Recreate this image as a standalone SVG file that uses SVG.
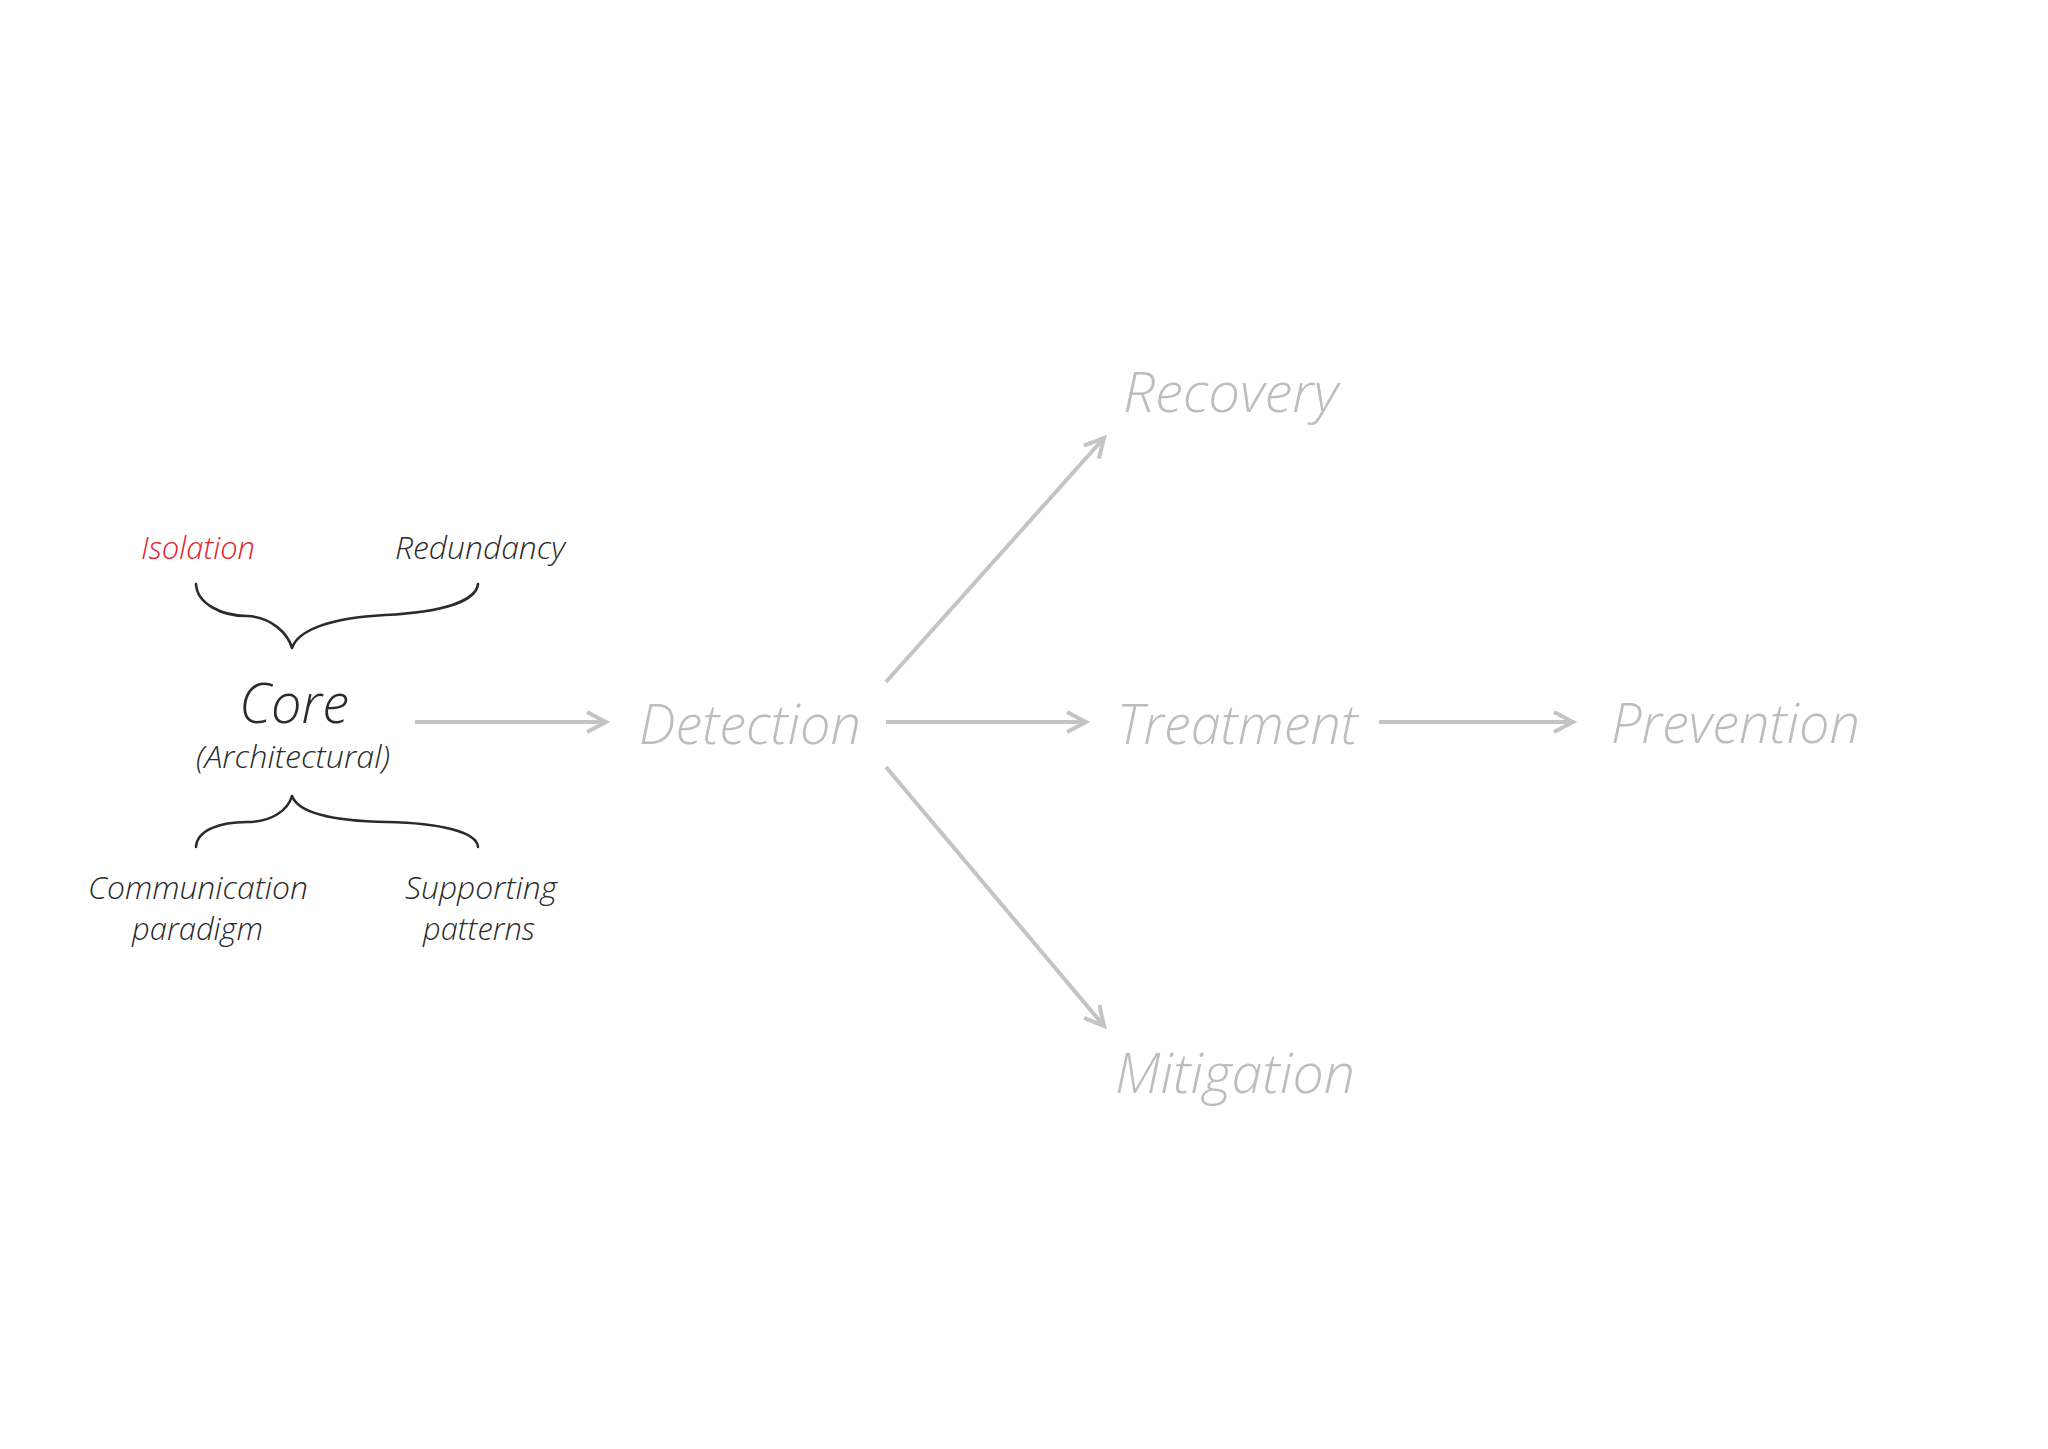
<svg xmlns="http://www.w3.org/2000/svg" width="2048" height="1449" viewBox="0 0 2048 1449">
  <style>
    .t { font-family: "Open Sans", "Noto Sans", "Liberation Sans", sans-serif; font-style: italic; font-weight: 300; }
    .dark { fill: #2b2b2b; }
    .red { fill: #e2222b; }
    .grey { fill: #bdbdbd; }
    .big { font-size: 56px; }
    .small { font-size: 32px; }
    .brace { fill: none; stroke: #2b2b2b; stroke-width: 2.6; stroke-linecap: round; stroke-linejoin: round; }
    .conn { fill: none; stroke: #c4c4c4; stroke-width: 4; marker-end: url(#ah); }
  </style>
  <defs>
    <marker id="ah" markerUnits="userSpaceOnUse" markerWidth="40" markerHeight="40" viewBox="-30 -20 40 40" refX="0" refY="0" orient="auto" overflow="visible">
      <path d="M-19,-10 L0,0 L-19,10" fill="none" stroke="#c4c4c4" stroke-width="4" stroke-linejoin="miter"/>
    </marker>
  </defs>
  <rect width="2048" height="1449" fill="#ffffff"/>

  <g id="core">
    <text class="t big dark" x="239" y="723" textLength="110" lengthAdjust="spacingAndGlyphs">Core</text>
    <text class="t small dark" x="196" y="768" textLength="194" lengthAdjust="spacingAndGlyphs">(Architectural)</text>
  </g>
  <g id="isolation">
    <text class="t small red" x="141" y="559" textLength="114" lengthAdjust="spacingAndGlyphs">Isolation</text>
  </g>
  <g id="redundancy">
    <text class="t small dark" x="395" y="559" textLength="170" lengthAdjust="spacingAndGlyphs">Redundancy</text>
  </g>
  <g id="communication-paradigm">
    <text class="t small dark" x="88" y="899" textLength="220" lengthAdjust="spacingAndGlyphs">Communication</text>
    <text class="t small dark" x="132" y="940" textLength="131" lengthAdjust="spacingAndGlyphs">paradigm</text>
  </g>
  <g id="supporting-patterns">
    <text class="t small dark" x="405" y="899" textLength="152" lengthAdjust="spacingAndGlyphs">Supporting</text>
    <text class="t small dark" x="423" y="940" textLength="112" lengthAdjust="spacingAndGlyphs">patterns</text>
  </g>
  <g id="braces">
    <path class="brace" d="M196,584 C197,604 222,616 247,616 C272,617 288,634 292,648 C298,630 330,618 385,615 C440,612 476,602 478,584"/>
    <path class="brace" d="M196,847 C197,830 220,822 247,822 C272,822 288,810 292,796 C298,812 330,821 387,822 C440,823 477,832 478,847"/>
  </g>

  <g id="detection">
    <text class="t big grey" x="639" y="744" textLength="222" lengthAdjust="spacingAndGlyphs">Detection</text>
  </g>
  <g id="recovery">
    <text class="t big grey" x="1123" y="412" textLength="215" lengthAdjust="spacingAndGlyphs">Recovery</text>
  </g>
  <g id="treatment">
    <text class="t big grey" x="1117" y="744" textLength="241" lengthAdjust="spacingAndGlyphs">Treatment</text>
  </g>
  <g id="prevention">
    <text class="t big grey" x="1611" y="743" textLength="249" lengthAdjust="spacingAndGlyphs">Prevention</text>
  </g>
  <g id="mitigation">
    <text class="t big grey" x="1115" y="1093" textLength="240" lengthAdjust="spacingAndGlyphs">Mitigation</text>
  </g>

  <g id="connectors">
    <line class="conn" x1="415" y1="722" x2="606" y2="722"/>
    <line class="conn" x1="886" y1="722" x2="1086" y2="722"/>
    <line class="conn" x1="1379" y1="722" x2="1573" y2="722"/>
    <line class="conn" x1="886" y1="682" x2="1104" y2="438"/>
    <line class="conn" x1="886" y1="767" x2="1104" y2="1026"/>
  </g>
</svg>
